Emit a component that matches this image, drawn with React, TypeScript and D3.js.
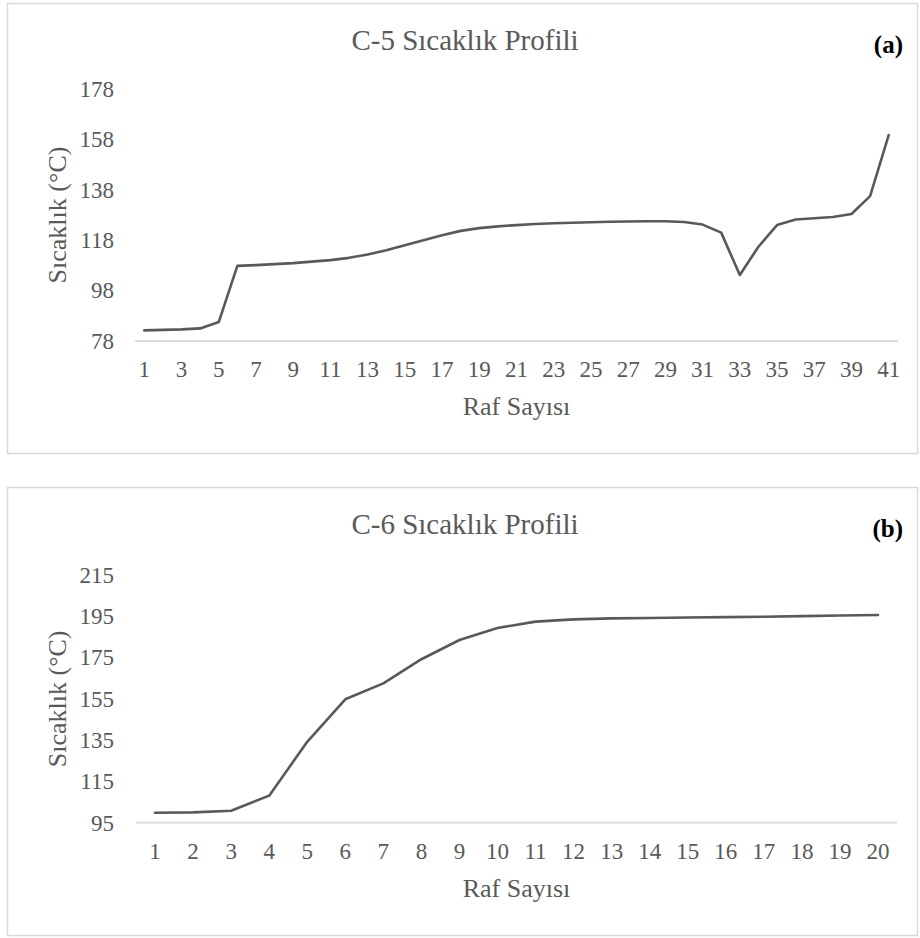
import React from "react";
import * as d3 from "d3";

const shelvesA: number[] = Array.from({ length: 41 }, (_, i) => i + 1);
const tempsA: number[] = [
  82.2, 82.4, 82.6, 83.0, 85.5, 107.8, 108.1, 108.5, 108.9, 109.5,
  110.1, 111.0, 112.3, 114.0, 116.0, 118.0, 120.0, 121.7, 122.8, 123.5,
  124.0, 124.4, 124.7, 124.9, 125.1, 125.3, 125.4, 125.5, 125.5, 125.2,
  124.2, 121.0, 104.2, 115.4, 124.0, 126.2, 126.7, 127.2, 128.4, 135.5,
  159.7,
];
const yTicksA: number[] = [78, 98, 118, 138, 158, 178];

const shelvesB: number[] = Array.from({ length: 20 }, (_, i) => i + 1);
const tempsB: number[] = [
  99.8, 100.0, 100.8, 108.1, 134.2, 154.8, 162.5, 174.2, 183.5, 189.3,
  192.4, 193.5, 194.0, 194.2, 194.4, 194.6, 194.8, 195.1, 195.4, 195.6,
];
const yTicksB: number[] = [95, 115, 135, 155, 175, 195, 215];

const FONT = "Liberation Serif, DejaVu Serif, serif";
const TEXT = "#595959";

type PanelProps = {
  title: string;
  tag: string;
  shelves: number[];
  temps: number[];
  yTicks: number[];
  xStep: number;
  box: { x: number; y: number; w: number; h: number };
  plot: { x0: number; x1: number; yTop: number; yBottom: number };
};

function Panel({ title, tag, shelves, temps, yTicks, xStep, box, plot }: PanelProps) {
  const x = d3
    .scalePoint<number>()
    .domain(shelves)
    .range([plot.x0, plot.x1])
    .padding(0.5);
  const y = d3
    .scaleLinear()
    .domain([yTicks[0], yTicks[yTicks.length - 1]])
    .range([plot.yBottom, plot.yTop]);
  const line = d3
    .line<number>()
    .x((_, i) => x(shelves[i]) as number)
    .y((d) => y(d));
  const cx = box.x + box.w / 2;
  const midY = (plot.yTop + plot.yBottom) / 2;
  const txt = { fontFamily: FONT, fill: TEXT } as React.CSSProperties;
  return (
    <g>
      <rect
        x={box.x + 0.5}
        y={box.y + 0.5}
        width={box.w}
        height={box.h}
        fill="#fff"
        stroke="#d9d9d9"
        strokeWidth={1.5}
      />
      <text x={cx + 3} y={box.y + 47} textAnchor="middle" style={{ ...txt, fontSize: 29 }}>
        {title}
      </text>
      <text
        x={903}
        y={box.y + 50}
        textAnchor="end"
        style={{ fontFamily: FONT, fontSize: 25, fontWeight: "bold", fill: "#000" }}
      >
        {tag}
      </text>
      {yTicks.map((t) => (
        <text
          key={t}
          x={114}
          y={y(t)}
          dy="0.34em"
          textAnchor="end"
          style={{ ...txt, fontSize: 23 }}
        >
          {t}
        </text>
      ))}
      <line
        x1={plot.x0}
        x2={plot.x1}
        y1={plot.yBottom}
        y2={plot.yBottom}
        stroke="#d9d9d9"
        strokeWidth={1.75}
      />
      {shelves
        .filter((_, i) => i % xStep === 0)
        .map((s) => (
          <text
            key={s}
            x={x(s) as number}
            y={plot.yBottom + 36}
            textAnchor="middle"
            style={{ ...txt, fontSize: 23 }}
          >
            {s}
          </text>
        ))}
      <text
        x={(plot.x0 + plot.x1) / 2}
        y={plot.yBottom + 74}
        textAnchor="middle"
        style={{ ...txt, fontSize: 26 }}
      >
        Raf Sayısı
      </text>
      <text
        transform={`translate(66, ${midY}) rotate(-90)`}
        textAnchor="middle"
        style={{ ...txt, fontSize: 26 }}
      >
        Sıcaklık (°C)
      </text>
      <path
        d={line(temps) || ""}
        fill="none"
        stroke="#595959"
        strokeWidth={2.6}
        strokeLinejoin="round"
        strokeLinecap="round"
      />
    </g>
  );
}

export default function App() {
  return (
    <svg
      width={920}
      height={938}
      style={{ position: "absolute", left: 0, top: 0, background: "#fff" }}
    >
      <rect x={0} y={0} width={920} height={938} fill="#fff" />
      <Panel
        title="C-5 Sıcaklık Profili"
        tag="(a)"
        shelves={shelvesA}
        temps={tempsA}
        yTicks={yTicksA}
        xStep={2}
        box={{ x: 7, y: 3, w: 910, h: 450 }}
        plot={{ x0: 135, x1: 898, yTop: 89, yBottom: 341 }}
      />
      <Panel
        title="C-6 Sıcaklık Profili"
        tag="(b)"
        shelves={shelvesB}
        temps={tempsB}
        yTicks={yTicksB}
        xStep={1}
        box={{ x: 7, y: 487, w: 910, h: 448 }}
        plot={{ x0: 136, x1: 897, yTop: 575, yBottom: 822.7 }}
      />
    </svg>
  );
}
